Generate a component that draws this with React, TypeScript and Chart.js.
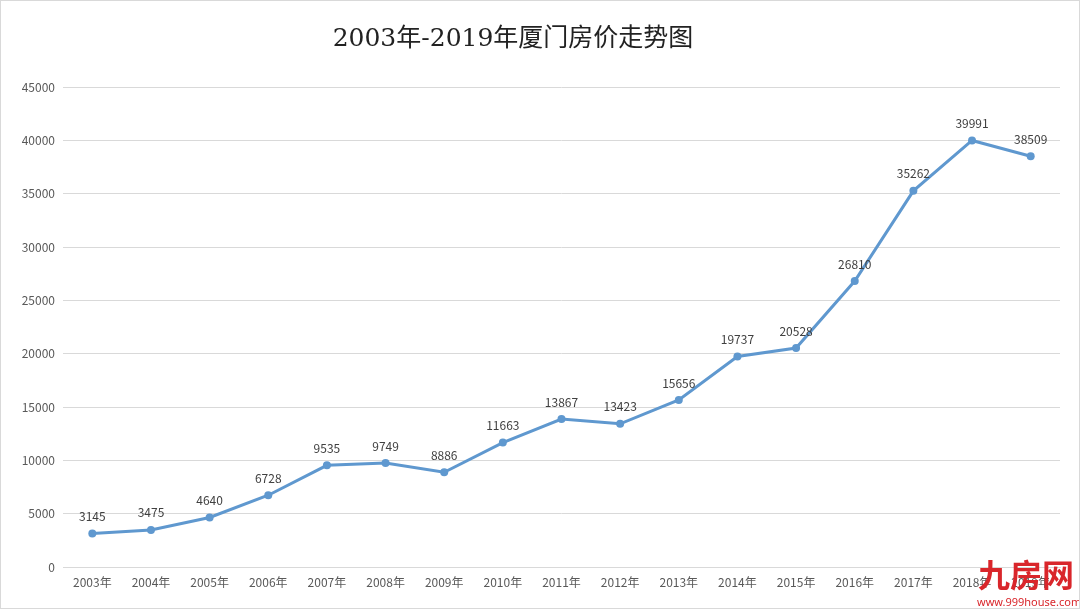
import React, { useEffect, useRef } from 'react';
import { Chart, registerables } from 'chart.js';

Chart.register(...registerables);

const years = ['2003年', '2004年', '2005年', '2006年', '2007年', '2008年', '2009年', '2010年', '2011年', '2012年', '2013年', '2014年', '2015年', '2016年', '2017年', '2018年', '2019年'];
const prices = [3145, 3475, 4640, 6728, 9535, 9749, 8886, 11663, 13867, 13423, 15656, 19737, 20528, 26810, 35262, 39991, 38509];
const TITLE = '2003年-2019年厦门房价走势图';

const labelFont = '"Noto Sans CJK SC", "Noto Sans", sans-serif';

// 제목 + 데이터 라벨
const overlayPlugin = {
  id: 'overlay',
  afterDatasetsDraw(chart: any) {
    const ctx = chart.ctx;
    ctx.save();
    ctx.fillStyle = '#222';
    ctx.font = '25px "DejaVu Serif", "Noto Sans CJK SC", serif';
    ctx.textAlign = 'center';
    ctx.textBaseline = 'middle';
    ctx.fillText(TITLE, 512, 38);

    const meta = chart.getDatasetMeta(0);
    ctx.fillStyle = '#404040';
    ctx.font = '12px ' + labelFont;
    ctx.textBaseline = 'bottom';
    meta.data.forEach((pt: any, i: number) => {
      ctx.fillText(String(prices[i]), pt.x, pt.y - 11);
    });
    ctx.restore();
  },
};

function PriceChart() {
  const canvasRef = useRef<HTMLCanvasElement>(null);
  const chartRef = useRef<Chart | null>(null);

  useEffect(() => {
    if (!canvasRef.current) return;
    const ctx = canvasRef.current.getContext('2d');
    if (!ctx) return;

    chartRef.current = new Chart(ctx, {
      type: 'line',
      data: {
        labels: years,
        datasets: [{
          data: prices,
          borderColor: '#5f98cf',
          backgroundColor: '#5f98cf',
          borderWidth: 3,
          pointRadius: 4,
          pointBackgroundColor: '#5f98cf',
          pointBorderWidth: 0,
          tension: 0,
        }],
      },
      options: {
        animation: false,
        responsive: true,
        maintainAspectRatio: false,
        layout: { padding: { top: 86, right: 19, left: 0, bottom: 0 } },
        plugins: {
          legend: { display: false },
          tooltip: { enabled: false },
        },
        scales: {
          x: {
            offset: true,
            grid: { display: false, drawTicks: false, offset: true },
            border: { color: '#d9d9d9', width: 1 },
            ticks: { color: '#595959', font: { size: 12, family: labelFont }, padding: 8, maxRotation: 0, autoSkip: false },
            afterFit: (s: any) => { s.height = 41; },
          },
          y: {
            min: 0,
            max: 45000,
            grid: { color: '#d9d9d9', drawTicks: false },
            border: { display: false },
            ticks: { stepSize: 5000, color: '#595959', font: { size: 12, family: labelFont }, padding: 8, callback: (v: any) => String(v) },
            afterFit: (s: any) => { s.width = 62; },
          },
        },
      },
      plugins: [overlayPlugin],
    });

    return () => {
      if (chartRef.current) {
        chartRef.current.destroy();
        chartRef.current = null;
      }
    };
  }, []);

  return <canvas ref={canvasRef} />;
}

export default function App() {
  useEffect(() => {
    document.body.style.margin = '0';
  }, []);
  return (
    <div style={{ position: 'relative', width: 1080, height: 609, boxSizing: 'border-box', border: '1px solid #d9d9d9', background: '#fff', overflow: 'hidden' }}>
      <div style={{ position: 'absolute', left: 0, top: 0, width: 1078, height: 607 }}>
        <PriceChart />
      </div>
      <div style={{ position: 'absolute', left: 977, top: 553, whiteSpace: 'nowrap', color: '#d9262b', fontFamily: labelFont, fontWeight: 700, fontSize: 32, lineHeight: '38px' }}>九房网</div>
      <div style={{ position: 'absolute', left: 976, top: 595, whiteSpace: 'nowrap', color: '#d9262b', fontFamily: '"Noto Sans", sans-serif', fontSize: 11, lineHeight: '12px' }}>www.999house.com</div>
    </div>
  );
}
